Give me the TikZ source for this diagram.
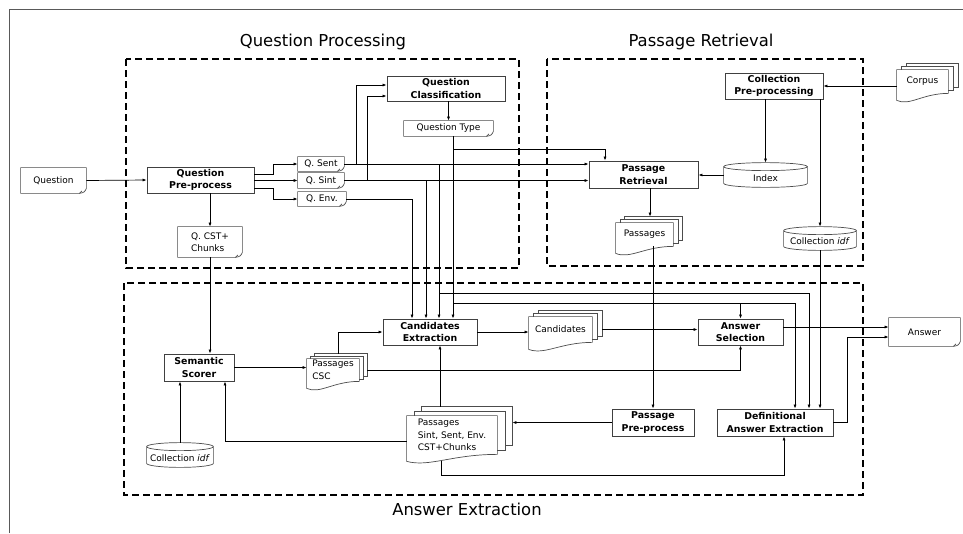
\documentclass[tikz,border=0pt]{standalone}
\usepackage{fontspec}
\setmainfont{DejaVu Sans}
\usetikzlibrary{arrows.meta,calc}

\tikzset{every picture/.style={line width=0.75pt}}
\tikzset{
  proc/.style={draw=black!75, line width=0.8pt, inner sep=0pt, align=center, font=\fontsize{9.4}{12.5}\selectfont\bfseries},
  doc/.style={inner sep=0pt, align=left, font=\fontsize{9}{12.5}\selectfont},
  stack/.style={inner sep=0pt, align=left, font=\fontsize{9}{12.5}\selectfont},
  cyl/.style={inner sep=0pt, text height=12pt, text depth=0pt, font=\fontsize{9}{12.5}\selectfont},
  docline/.style={draw=black!70, line width=0.7pt},
  conn/.style={draw=black, line width=0.7pt, -{Latex[length=4pt,width=3pt]}},
  group/.style={draw=black, line width=1.6pt, dash pattern=on 7pt off 4pt},
  title/.style={font=\fontsize{16.4}{20}\selectfont},
}

% document with folded corner
\newcommand{\docframe}[1]{%
  \draw[docline] (#1.north west) -- (#1.north east) -- ([yshift=5pt]#1.south east)
    .. controls ([shift={(-2pt,1pt)}]#1.south east) .. ([xshift=-7pt]#1.south east)
    -- (#1.south west) -- cycle;
  \draw[docline] ([xshift=-7pt]#1.south east) -- ([shift={(-4.5pt,2.5pt)}]#1.south east);
}
% stack of documents: name, dx, dy
\newcommand{\stackframe}[3]{%
  \foreach \k in {1,2}{
    \draw[docline] ([shift={({#2*\k},{-#3*(\k-1)})}]#1.north west)
      |- ([shift={({#2*\k},{-#3*\k})}]#1.north east)
      -- ([shift={({#2*\k},{-#3*\k})}]#1.south east)
      -- ([shift={({#2*(\k-1)},{-#3*\k})}]#1.south east);
  }
  \draw[docline] (#1.north west) -- (#1.north east) -- (#1.south east)
    .. controls ($(#1.south west)!0.5!(#1.south east)$) and ($(#1.south west)!0.25!(#1.south east)+(0,13)$)
    .. ([shift={(0,7)}]#1.south west) -- cycle;
}
% database cylinder
\newcommand{\dbframe}[1]{%
  \draw[docline] let \p1=(#1.north west), \p2=(#1.south east), \n1={(\x2-\x1)/2} in
    (\x1,\y1-4pt) -- (\x1,\y2+4pt) arc[start angle=180, end angle=360, x radius=\n1*1pt, y radius=4pt]
    -- (\x2,\y1-4pt)
    (\x1+\n1*1pt,\y1-4pt) ellipse[x radius=\n1*1pt, y radius=4pt];
}

\begin{document}
\begin{tikzpicture}[x=1pt,y=-1pt]
    \useasboundingbox (0,0) rectangle (963,533);

    %Frame
    \draw[black!65, line width=0.8pt] (9,533) -- (9,9) -- (963,9);

    %Dashed groups
    \draw[group] (126,59) rectangle (519,268);
    \draw[group] (547,59) rectangle (863,266);
    \draw[group] (124,283) rectangle (863,495);

    % Titles
    \node[title] (tqp) at (323,42) {Question Processing};
    \node[title] (tpr) at (701,42) {Passage Retrieval};
    \node[title] (tae) at (467,509) {Answer Extraction};

    % Question Processing
    \node[doc, minimum width=65pt, minimum height=25pt] (question) at (53.5,180.5) {Question};
    \node[proc, minimum width=107pt, minimum height=26pt] (qpre) at (200.5,180) {Question\\Pre-process};
    \node[doc, minimum width=46pt, minimum height=14pt] (qsent) at (321,164) {Q. Sent};
    \node[doc, minimum width=46pt, minimum height=15pt] (qsint) at (321,180.5) {Q. Sint};
    \node[doc, minimum width=48pt, minimum height=14pt] (qenv) at (322,199) {Q. Env.};
    \node[doc, minimum width=64pt, minimum height=30pt] (qcst) at (210,242) {Q. CST+\\Chunks};
    \node[proc, minimum width=118pt, minimum height=25pt] (qclass) at (446,88.5) {Question\\Classification};
    \node[doc, minimum width=89pt, minimum height=15pt] (qtype) at (448.5,128.5) {Question Type};

    % Passage Retrieval
    \node[proc, minimum width=109pt, minimum height=27pt] (psgret) at (643.5,174.5) {Passage\\Retrieval};
    \node[cyl, minimum width=83pt, minimum height=24pt] (index) at (765.5,175) {Index};
    \node[proc, minimum width=98pt, minimum height=26pt] (collpre) at (774,86) {Collection\\Pre-processing};
    \node[stack, minimum width=51pt, minimum height=23pt] (corpus) at (922.5,81.5) {Corpus};
    \node[stack, minimum width=57pt, minimum height=23pt] (psgpr) at (644.5,234.5) {Passages};
    \node[cyl, minimum width=72pt, minimum height=23pt] (idfpr) at (820,238.5) {Collection \textit{idf}};

    % Answer Extraction
    \node[proc, minimum width=94pt, minimum height=26pt] (candx) at (430,332) {Candidates\\Extraction};
    \node[stack, minimum width=63pt, minimum height=25pt] (cands) at (560.5,329.5) {Candidates};
    \node[proc, minimum width=85pt, minimum height=26pt] (anssel) at (740.5,332) {Answer\\Selection};
    \node[doc, minimum width=71pt, minimum height=28pt] (answer) at (924.5,332) {Answer};
    \node[proc, minimum width=70pt, minimum height=27pt] (semsc) at (199,367.5) {Semantic\\Scorer};
    \node[stack, minimum width=52pt, minimum height=22pt] (csc) at (333,370) {Passages\\CSC};
    \node[cyl, minimum width=66pt, minimum height=24pt] (idfae) at (180,455) {Collection \textit{idf}};
    \node[stack, minimum width=90pt, minimum height=38pt] (psgx) at (452,435) {Passages\\Sint, Sent, Env.\\CST+Chunks};
    \node[proc, minimum width=82pt, minimum height=27pt] (ppre) at (653,422.5) {Passage\\Pre-process};
    \node[proc, minimum width=116pt, minimum height=27pt] (defx) at (775,422.5) {Definitional\\Answer Extraction};

    % Shapes round the text nodes
    \docframe{question} \docframe{qsent} \docframe{qsint} \docframe{qenv}
    \docframe{qcst} \docframe{qtype} \docframe{answer}
    \stackframe{corpus}{5}{3} \stackframe{psgpr}{4.5}{3} \stackframe{cands}{5}{3}
    \stackframe{csc}{4}{2.5} \stackframe{psgx}{7.5}{4.5}
    \dbframe{index} \dbframe{idfpr} \dbframe{idfae}

    \coordinate (psgxr) at ([xshift=15pt]psgx.east);

    % Connectors: question processing
    \draw[conn] (question.east) -- (qpre.west);
    \draw[conn] ([yshift=6pt]qpre.east) -- ++(19,0) |- (qsent.west);
    \draw[conn] (qpre.east |- qsint.west) -- (qsint.west);
    \draw[conn] ([yshift=-8pt]qpre.east) -- ++(19,0) |- (qenv.west);
    \draw[conn] (qpre.south -| qcst.north) -- (qcst.north);
    \draw[conn] (qcst.south) -- (qcst.south |- semsc.north);
    \draw[conn] (qsent.east) -- ++(12,0) |- ([yshift=3.5pt]qclass.west);
    \draw[conn] (qsint.east) -- ++(23,0) |- ([yshift=-7.5pt]qclass.west);
    \draw[conn] (qclass.south -| qtype.north) -- (qtype.north);
    \draw[conn] (qsent.east) -- (qsent.east -| psgret.west);
    \draw[conn] (qsint.east) -- (qsint.east -| psgret.west);
    \draw[conn] (qsent.east) -| ([xshift=9pt]candx.north);
    \draw[conn] (qsint.east) -| ([xshift=-4pt]candx.north);
    \draw[conn] (qenv.east) -| ([xshift=-18pt]candx.north);
    \draw[conn] ([xshift=4.5pt]qtype.south) -- ([xshift=23pt]candx.north);
    \draw[conn] ([xshift=4.5pt]qtype.south) ++(0,13) -| ([xshift=-38.5pt]psgret.north);

    % Connectors: passage retrieval
    \draw[conn] (corpus.west |- collpre.east) -- (collpre.east);
    \draw[conn] (collpre.south -| index.north) -- (index.north);
    \draw[conn] (collpre.south -| idfpr.north) -- (idfpr.north);
    \draw[conn] (index.west) -- (index.west -| psgret.east);
    \draw[conn] ([xshift=6.5pt]psgret.south) -- ([shift={(5.5,-6)}]psgpr.north);
    \draw[conn] (psgpr.south -| ppre.north) -- (ppre.north);
    \draw[conn] (idfpr.south) -- (idfpr.south |- defx.north);

    % Connectors: answer extraction
    \draw[conn] ([shift={(9,-25)}]candx.north) -| ([xshift=34pt]defx.north);
    \draw[conn] ([shift={(23,-15)}]candx.north) -| ([xshift=20pt]defx.north);
    \draw[conn] ([yshift=15pt]anssel.north) -- (anssel.north);
    \draw[conn] (candx.east) -- (candx.east -| cands.west);
    \draw[conn] ([xshift=10pt]cands.east) -- (cands.east -| anssel.west);
    \draw[conn] ([shift={(5,-5)}]csc.north) |- (candx.west);
    \draw[conn] (semsc.east) -- (semsc.east -| csc.west);
    \draw[conn] ([xshift=8pt]csc.east) -| (anssel.south);
    \draw[conn] (idfae.north) -- (idfae.north |- semsc.south);
    \draw[conn] ([yshift=-6pt]psgx.west) -| ([xshift=26pt]semsc.south);
    \draw[conn] ([shift={(-12,-9)}]psgx.north) -- ([xshift=10pt]candx.south);
    \draw[conn] (ppre.west) -- (ppre.west -| psgxr);
    \draw[conn] ([shift={(-11,7)}]psgx.south) -- ++(0,14) -| ([xshift=9pt]defx.south);
    \draw[conn] ([yshift=5pt]anssel.east) -- ([yshift=5pt]answer.west);
    \draw[conn] (defx.east) -- ++(14,0) |- ([yshift=-5pt]answer.west);

\end{tikzpicture}
\end{document}
